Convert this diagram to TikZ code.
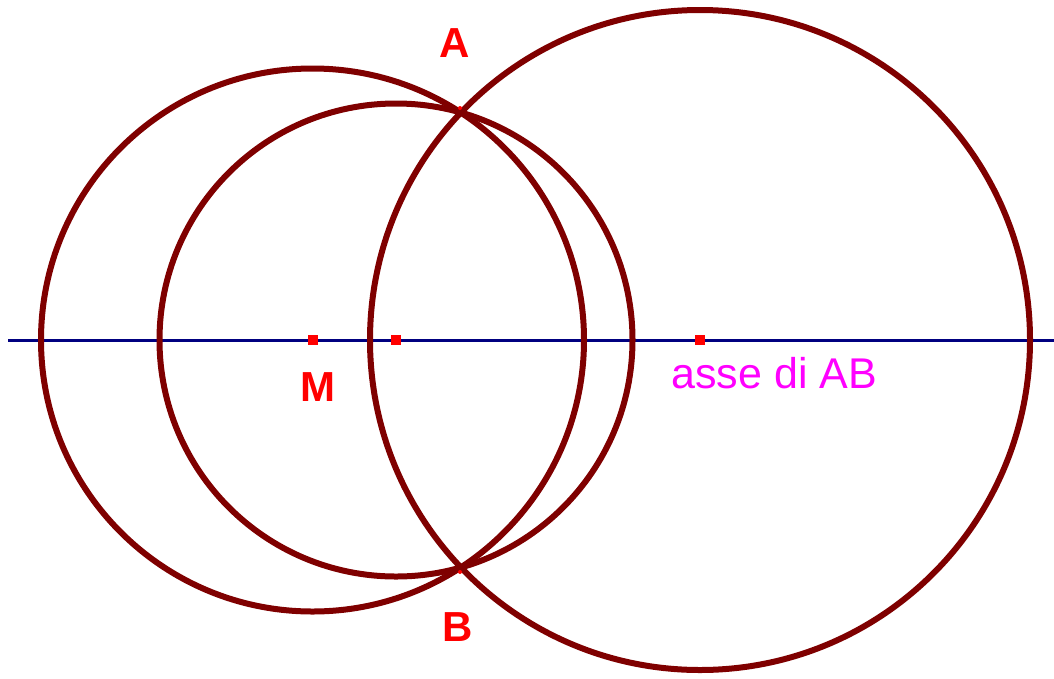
\documentclass[tikz,border=0pt]{standalone}
\usepackage{fontspec}
\setmainfont{Liberation Sans}
\usepackage{tikz}
\usetikzlibrary{positioning}
\usepackage{xcolor}
\definecolor{circred}{HTML}{7F0000}
\definecolor{axisblue}{HTML}{000080}
\definecolor{ptred}{HTML}{FF0000}
\definecolor{axislbl}{HTML}{FF00FF}

\tikzset{
	circ/.style={draw=circred, line width=6pt},
	pt/.style={fill=ptred, minimum size=10pt, inner sep=0pt},
	lbl/.style={text=ptred, font=\fontsize{42}{42}\selectfont\bfseries}
}

\begin{document}
\begin{tikzpicture}[x=1pt, y=-1pt]
		
		\useasboundingbox (0,0) rectangle (1054,678);
		
		% Centres
		\coordinate (M) at (312.5,340);
		\coordinate (C) at (396,340);
		\coordinate (D) at (700,340);
		
		% Axis
		\coordinate (L) at (8,340);
		\coordinate (R) at (1054,340);
		\draw[axisblue, line width=3pt] (L) -- (R);
		
		% Circles
		\draw[circ] (M) circle (271.5);
		\draw[circ] (C) circle (236.5);
		\draw[circ] (D) circle (330);
		
		% Points
		\node[pt] (pM) at (M) {};
		\node[pt] (pC) at (C) {};
		\node[pt] (pD) at (D) {};
		\fill[ptred] (460,108) circle (2);
		\fill[ptred] (460,572) circle (2);
		
		% Labels
		\node[lbl] (A) at (455,43) {A};
		\node[lbl] (B) at (458,627) {B};
		\node[lbl] (lM) at (318,387) {M};
		\node[text=axislbl, font=\fontsize{43}{43}\selectfont, anchor=base west]
		(asse) at (668,388) {asse di AB};
		
	\end{tikzpicture}
\end{document}
